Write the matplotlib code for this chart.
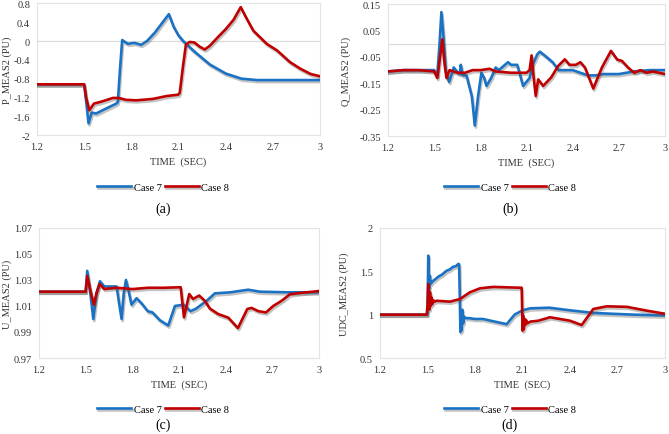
import matplotlib
matplotlib.use('Agg')
import matplotlib.pyplot as plt
import matplotlib.patheffects as pe

plt.rcParams['font.family'] = ['Liberation Serif', 'DejaVu Serif']

# (a) active power
t_a7 = [1.2, 1.5, 1.51, 1.528, 1.548, 1.576, 1.618, 1.661, 1.704, 1.714, 1.728, 1.742, 1.778, 1.82, 1.863, 1.9,
        1.95, 2.0, 2.039, 2.07, 2.1, 2.13, 2.2, 2.3, 2.4, 2.5, 2.6, 2.8, 3.0]
p_a7 = [-0.92, -0.92, -1.2, -1.75, -1.52, -1.54, -1.47, -1.40, -1.33, -1.30, -0.6, 0.02, -0.06, -0.04, -0.08, 0.0,
        0.18, 0.4, 0.57, 0.3, 0.12, 0.0, -0.22, -0.5, -0.69, -0.8, -0.83, -0.83, -0.83]
t_a8 = [1.2, 1.5, 1.512, 1.533, 1.562, 1.618, 1.682, 1.72, 1.767, 1.832, 1.938, 2.023, 2.098, 2.108, 2.13, 2.147,
        2.17, 2.2, 2.235, 2.267, 2.3, 2.35, 2.4, 2.45, 2.496, 2.53, 2.576, 2.663, 2.727, 2.81, 2.876, 2.94, 3.0]
p_a8 = [-0.92, -0.92, -1.2, -1.47, -1.33, -1.28, -1.21, -1.21, -1.25, -1.26, -1.23, -1.17, -1.14, -1.1, -0.5, -0.08,
        -0.02, -0.03, -0.12, -0.18, -0.1, 0.08, 0.25, 0.45, 0.72, 0.5, 0.22, -0.065, -0.2, -0.45, -0.59, -0.7, -0.75]

# (b) reactive power
t_b7 = [1.2, 1.3, 1.4, 1.5, 1.52, 1.535, 1.547, 1.56, 1.575, 1.597, 1.627, 1.655, 1.667, 1.673, 1.685, 1.71, 1.745,
        1.764, 1.785, 1.807, 1.825, 1.84, 1.87, 1.9, 1.92, 1.96, 1.98, 2.0, 2.04, 2.078, 2.12, 2.14, 2.17, 2.187,
        2.23, 2.27, 2.31, 2.35, 2.4, 2.45, 2.5, 2.55, 2.6, 2.7, 2.8, 2.9, 3.0]
q_b7 = [-0.105, -0.1, -0.1, -0.1, -0.12, 0.0, 0.12, 0.03, -0.1, -0.145, -0.09, -0.11, -0.115, -0.08, -0.12, -0.12,
        -0.2, -0.31, -0.2, -0.11, -0.13, -0.16, -0.13, -0.09, -0.1, -0.08, -0.07, -0.08, -0.08, -0.16, -0.13, -0.08,
        -0.04, -0.03, -0.05, -0.07, -0.1, -0.1, -0.1, -0.11, -0.12, -0.12, -0.115, -0.115, -0.105, -0.1, -0.1]
t_b8 = [1.2, 1.3, 1.4, 1.5, 1.52, 1.538, 1.553, 1.568, 1.58, 1.6, 1.65, 1.7, 1.75, 1.8, 1.86, 1.9, 2.0, 2.1, 2.12,
        2.133, 2.145, 2.16, 2.176, 2.208, 2.26, 2.306, 2.349, 2.38, 2.42, 2.45, 2.48, 2.534, 2.59, 2.649, 2.69, 2.72,
        2.76, 2.8, 2.84, 2.88, 2.92, 2.96, 3.0]
q_b8 = [-0.105, -0.1, -0.1, -0.105, -0.13, -0.05, 0.017, -0.08, -0.13, -0.1, -0.11, -0.11, -0.1, -0.1, -0.095,
        -0.105, -0.11, -0.11, -0.1, -0.044, -0.12, -0.198, -0.135, -0.16, -0.128, -0.084, -0.059, -0.08, -0.08,
        -0.07, -0.09, -0.17, -0.09, -0.027, -0.06, -0.065, -0.09, -0.11, -0.1, -0.11, -0.105, -0.11, -0.115]

# (c) ac voltage
t_c7 = [1.2, 1.5, 1.51, 1.53, 1.549, 1.57, 1.592, 1.62, 1.65, 1.699, 1.715, 1.731, 1.745, 1.759, 1.775, 1.795,
        1.827, 1.86, 1.9, 1.93, 1.978, 2.031, 2.074, 2.13, 2.175, 2.21, 2.278, 2.331, 2.43, 2.545, 2.62, 2.8, 3.0]
u_c7 = [1.021, 1.021, 1.037, 1.02, 1.0, 1.02, 1.029, 1.025, 1.025, 1.025, 1.012, 1.0, 1.02, 1.03, 1.022, 1.011,
        1.016, 1.012, 1.006, 1.005, 0.999, 0.995, 1.01, 1.011, 1.006, 1.008, 1.014, 1.0197, 1.0205, 1.0225, 1.021,
        1.0205, 1.0205]
t_c8 = [1.2, 1.5, 1.51, 1.53, 1.553, 1.57, 1.59, 1.62, 1.7, 1.8, 1.9, 2.0, 2.111, 2.132, 2.166, 2.19, 2.23, 2.266,
        2.299, 2.352, 2.417, 2.479, 2.539, 2.567, 2.61, 2.659, 2.706, 2.76, 2.813, 2.88, 3.0]
u_c8 = [1.021, 1.021, 1.033, 1.022, 1.011, 1.02, 1.027, 1.023, 1.024, 1.023, 1.024, 1.024, 1.0244, 1.0013, 1.0192,
        1.0154, 1.018, 1.014, 1.008, 1.0038, 1.001, 0.993, 1.0077, 1.0085, 1.006, 1.005, 1.01, 1.014, 1.019, 1.02,
        1.0215]

# (d) dc voltage
t_d7 = [1.2, 1.5, 1.505, 1.51, 1.515, 1.52, 1.53, 1.55, 1.57, 1.59, 1.621, 1.64, 1.66, 1.68, 1.695, 1.7, 1.705,
        1.708, 1.712, 1.716, 1.72, 1.725, 1.73, 1.74, 1.76, 1.8, 1.85, 1.9, 1.95, 2.0, 2.05, 2.1, 2.15, 2.27, 2.4,
        2.547, 2.67, 2.8, 3.0]
u_d7 = [1.0, 1.0, 1.68, 1.3, 1.45, 1.354, 1.38, 1.41, 1.44, 1.46, 1.507, 1.52, 1.55, 1.56, 1.585, 1.58, 1.1, 0.8,
        1.0, 0.82, 1.057, 0.9, 0.98, 0.96, 0.96, 0.95, 0.95, 0.93, 0.91, 0.89, 1.0, 1.05, 1.073, 1.08, 1.05, 1.02,
        1.01, 1.0, 0.99]
t_d8 = [1.2, 1.495, 1.5, 1.505, 1.512, 1.516, 1.52, 1.525, 1.53, 1.535, 1.545, 1.558, 1.642, 1.705, 1.768, 1.832,
        1.916, 2.021, 2.095, 2.101, 2.104, 2.108, 2.112, 2.117, 2.122, 2.13, 2.15, 2.2, 2.274, 2.337, 2.4, 2.474,
        2.547, 2.632, 2.76, 2.885, 3.0]
u_d8 = [1.0, 1.0, 1.1, 1.354, 1.06, 1.26, 1.1, 1.2, 1.12, 1.17, 1.15, 1.16, 1.15, 1.18, 1.258, 1.304, 1.32, 1.314,
        1.31, 0.815, 0.99, 0.83, 0.95, 0.88, 0.94, 0.9, 0.92, 0.93, 0.97, 0.95, 0.93, 0.88, 1.065, 1.096, 1.09, 1.046,
        1.01]

x_ticks = [1.2, 1.5, 1.8, 2.1, 2.4, 2.7, 3.0]
x_tick_labels = ['1.2', '1.5', '1.8', '2.1', '2.4', '2.7', '3']
blue = '#1a72c4'
red = '#c00000'
shadow = [pe.SimpleLineShadow(offset=(0.8, -1.5), shadow_color='#555555', alpha=0.35), pe.Normal()]

panels = [
    dict(pos=[0.0553, 0.687, 0.423, 0.303], t7=t_a7, y7=p_a7, t8=t_a8, y8=p_a8, ylabel='P_MEAS2 (PU)',
         yticks=[0.8, 0.4, 0, -0.4, -0.8, -1.2, -1.6, -2], ylab=['0.8', '0.4', '0', '-0.4', '-0.8', '-1.2', '-1.6', '-2'],
         ylim=(-2, 0.8), zero=True, tag='(a)', cx=163, leg_y=188, tag_y=209, lx=7),
    dict(pos=[0.58, 0.685, 0.414, 0.303], t7=t_b7, y7=q_b7, t8=t_b8, y8=q_b8, ylabel='Q_MEAS2 (PU)',
         yticks=[0.15, 0.05, -0.05, -0.15, -0.25, -0.35], ylab=['0.15', '0.05', '-0.05', '-0.15', '-0.25', '-0.35'],
         ylim=(-0.35, 0.15), zero=True, tag='(b)', cx=510, leg_y=188, tag_y=209, lx=346),
    dict(pos=[0.0583, 0.1747, 0.4185, 0.299], t7=t_c7, y7=u_c7, t8=t_c8, y8=u_c8, ylabel='U_MEAS2 (PU)',
         yticks=[1.07, 1.05, 1.03, 1.01, 0.99, 0.97], ylab=['1.07', '1.05', '1.03', '1.01', '0.99', '0.97'],
         ylim=(0.97, 1.07), zero=False, tag='(c)', cx=163, leg_y=410, tag_y=425, lx=7),
    dict(pos=[0.568, 0.1747, 0.426, 0.299], t7=t_d7, y7=u_d7, t8=t_d8, y8=u_d8, ylabel='UDC_MEAS2 (PU)',
         yticks=[2, 1.5, 1, 0.5], ylab=['2', '1.5', '1', '0.5'],
         ylim=(0.5, 2), zero=False, tag='(d)', cx=510, leg_y=410, tag_y=425, lx=344),
]

W, H = 669, 435
fig = plt.figure(figsize=(W / 100, H / 100), dpi=100)

for p in panels:
    ax = fig.add_axes(p['pos'])
    if p['zero']:
        ax.axhline(0, color='#d9d9d9', lw=0.8, zorder=1)
    l7, = ax.plot(p['t7'], p['y7'], color=blue, lw=1.9, zorder=3, label='Case 7', path_effects=shadow)
    l8, = ax.plot(p['t8'], p['y8'], color=red, lw=1.9, zorder=4, label='Case 8', path_effects=shadow)
    ax.set_xlim(1.2, 3.0)
    ax.set_ylim(*p['ylim'])
    ax.set_xticks(x_ticks)
    ax.set_xticklabels(x_tick_labels)
    ax.set_yticks(p['yticks'])
    ax.set_yticklabels(p['ylab'])
    ax.tick_params(length=0, labelsize=7.5, colors='#333333', pad=5)
    for s in ax.spines.values():
        s.set_color('#e3e3e3')
        s.set_linewidth(0.8)
    ax.set_xlabel('TIME  (SEC)', fontsize=7.5, color='#333333', labelpad=4)
    # y label placed in figure pixels so it stays inside the image
    b = p['pos'][1] + p['pos'][3] / 2
    fig.text(p['lx'] / W, b, p['ylabel'], rotation=90, ha='center', va='center', fontsize=7.5, color='#333333')
    fig.legend(handles=[l7, l8], loc='center', bbox_to_anchor=(p['cx'] / W, 1 - p['leg_y'] / H), ncol=2,
               frameon=False, fontsize=7.5, handlelength=3.3, handletextpad=0.2, columnspacing=0.3)
    fig.text(p['cx'] / W, 1 - p['tag_y'] / H, p['tag'], ha='center', va='center', fontsize=10)

fig.savefig('out.png', dpi=100)
